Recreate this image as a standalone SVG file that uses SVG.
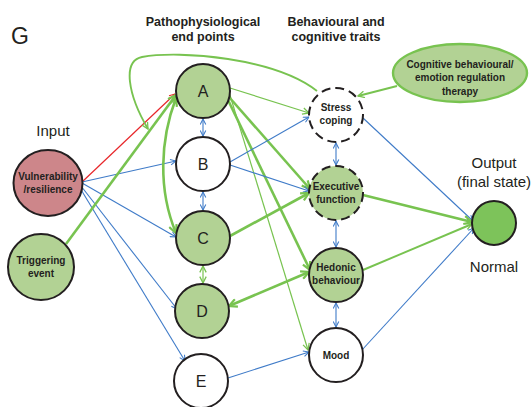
<svg xmlns="http://www.w3.org/2000/svg" width="531" height="407" viewBox="0 0 531 407">
<defs>
<style>
.t{font-family:"Liberation Sans",Arial,sans-serif;fill:#231f20}
.h{font-weight:bold;font-size:12.5px;text-anchor:middle}
.lab{font-size:15px;text-anchor:middle}
.nl{font-size:16px;text-anchor:middle}
.nb{font-weight:bold;font-size:10px;text-anchor:middle}
.node{stroke:#231f20;stroke-width:2}
.g{fill:#b2d294}
.w{fill:#ffffff}
.dash{stroke-dasharray:9 5}
.bl{stroke:#3f7bc8;stroke-width:1.1;fill:none}
.gt{stroke:#78c350;stroke-width:2.6;fill:none}
.gm{stroke:#78c350;stroke-width:1.9;fill:none}
.gs{stroke:#78c350;stroke-width:1.2;fill:none}
.rd{stroke:#e8262a;stroke-width:1.2;fill:none}
</style>
<marker id="ab" viewBox="0 0 10 10" refX="9" refY="5" markerWidth="7" markerHeight="7" markerUnits="userSpaceOnUse" orient="auto-start-reverse"><path d="M1,1 L9,5 L1,9" fill="none" stroke="#3f7bc8" stroke-width="1.5"/></marker>
<marker id="ag" viewBox="0 0 10 10" refX="9" refY="5" markerWidth="10" markerHeight="10" markerUnits="userSpaceOnUse" orient="auto-start-reverse"><path d="M1,1 L9,5 L1,9" fill="none" stroke="#78c350" stroke-width="2.2"/></marker>
<marker id="ags" viewBox="0 0 10 10" refX="9" refY="5" markerWidth="8" markerHeight="8" markerUnits="userSpaceOnUse" orient="auto-start-reverse"><path d="M1,1 L9,5 L1,9" fill="none" stroke="#78c350" stroke-width="1.6"/></marker>
<marker id="ar" viewBox="0 0 10 10" refX="9" refY="5" markerWidth="7" markerHeight="7" markerUnits="userSpaceOnUse" orient="auto"><path d="M1,1 L9,5 L1,9" fill="none" stroke="#e8262a" stroke-width="1.6"/></marker>
</defs>
<rect width="531" height="407" fill="#ffffff"/>

<g id="labels">
<text class="t" x="11" y="44" font-size="23">G</text>
<text class="t h" x="203" y="26">Pathophysiological</text>
<text class="t h" x="203" y="41">end points</text>
<text class="t h" x="336" y="26">Behavioural and</text>
<text class="t h" x="336" y="41">cognitive traits</text>
<text class="t lab" x="53" y="136">Input</text>
<text class="t lab" x="494" y="168">Output</text>
<text class="t lab" x="494" y="187">(final state)</text>
<text class="t lab" x="494" y="272">Normal</text>
</g>

<g id="connectors">
<path class="rd" d="M82,182 L175,94" marker-end="url(#ar)"/>
<path class="bl" d="M82,182 L176,161" marker-end="url(#ab)"/>
<path class="bl" d="M82,183 L176,237" marker-end="url(#ab)"/>
<path class="bl" d="M81,186 L177,309" marker-end="url(#ab)"/>
<path class="bl" d="M80,188 L185,361" marker-end="url(#ab)"/>
<path class="gt" d="M66,244 L176,95" marker-end="url(#ag)"/>
<path class="gm" d="M317,91 C275,58 180,50 142,57 C122,61 128,95 148,129" marker-end="url(#ags)"/>
<path class="gt" d="M176,98 C160,140 158,190 176,233" marker-start="url(#ag)" marker-end="url(#ag)"/>
<path class="gs" d="M230,88 L309,113" marker-end="url(#ags)"/>
<path class="gt" d="M229,97 L310,189" marker-end="url(#ag)"/>
<path class="gt" d="M228,100 L310,270" marker-end="url(#ag)"/>
<path class="gs" d="M229,92 L308,350" marker-end="url(#ags)"/>
<path class="bl" d="M230,162 L309,117" marker-end="url(#ab)"/>
<path class="bl" d="M230,165 L309,191" marker-end="url(#ab)"/>
<path class="gt" d="M230,236 L309,193" marker-end="url(#ag)"/>
<path class="gt" d="M229,306 L309,272" marker-start="url(#ag)" marker-end="url(#ag)"/>
<path class="bl" d="M228,378 L309,352" marker-end="url(#ab)"/>
<path class="bl" d="M363,118 L473,221" marker-end="url(#ab)"/>
<path class="gt" d="M363,195 L472,222" marker-end="url(#ag)"/>
<path class="gm" d="M363,270 L472,224" marker-end="url(#ags)"/>
<path class="bl" d="M362,350 L474,228" marker-end="url(#ab)"/>
<path class="gm" d="M397,86 L358,96" stroke-width="2.2" marker-end="url(#ags)"/>
<path class="bl" d="M203,119 L203,136" marker-start="url(#ab)" marker-end="url(#ab)"/>
<path class="bl" d="M203,192 L203,210" marker-start="url(#ab)" marker-end="url(#ab)"/>
<path class="gs" d="M203,266 L203,283" marker-start="url(#ags)" marker-end="url(#ags)"/>
<path class="bl" d="M336,143 L336,165" stroke-width="1.6" marker-start="url(#ab)" marker-end="url(#ab)"/>
<path class="bl" d="M336,221 L336,247" marker-start="url(#ab)" marker-end="url(#ab)"/>
<path class="bl" d="M336,303 L336,327" marker-start="url(#ab)" marker-end="url(#ab)"/>
</g>

<g id="node-vulnerability"><ellipse class="node" cx="48" cy="183" rx="34.5" ry="33" fill="#cd868a"/><text class="t nb" x="48" y="180" font-size="10.5">Vulnerability</text><text class="t nb" x="48" y="193" font-size="10.5">/resilience</text></g>
<g id="node-triggering"><circle class="node g" cx="41" cy="267" r="33"/><text class="t nb" x="41" y="264" font-size="10.3">Triggering</text><text class="t nb" x="41" y="277" font-size="10.3">event</text></g>
<g id="node-A"><circle class="node g" cx="203" cy="91" r="27"/><text class="t nl" x="203" y="97">A</text></g>
<g id="node-B"><circle class="node w" cx="203" cy="164" r="27"/><text class="t nl" x="203" y="170">B</text></g>
<g id="node-C"><circle class="node g" cx="203" cy="238" r="27"/><text class="t nl" x="203" y="244">C</text></g>
<g id="node-D"><circle class="node g" cx="202" cy="311" r="27"/><text class="t nl" x="202" y="317">D</text></g>
<g id="node-E"><circle class="node w" cx="201" cy="381" r="27"/><text class="t nl" x="201" y="387">E</text></g>
<g id="node-stress"><circle class="node w dash" cx="336" cy="115" r="27"/><text class="t nb" x="336" y="111">Stress</text><text class="t nb" x="336" y="124">coping</text></g>
<g id="node-executive"><circle class="node g dash" cx="336" cy="193" r="27"/><text class="t nb" x="336" y="190">Executive</text><text class="t nb" x="336" y="203">function</text></g>
<g id="node-hedonic"><circle class="node g" cx="336" cy="275" r="27"/><text class="t nb" x="336" y="271">Hedonic</text><text class="t nb" x="336" y="284">behaviour</text></g>
<g id="node-mood"><circle class="node w" cx="336" cy="355" r="27"/><text class="t nb" x="336" y="359">Mood</text></g>
<g id="node-output"><circle class="node" cx="494" cy="223" r="22" fill="#7dc35a"/></g>
<g id="node-therapy"><ellipse cx="460" cy="73" rx="67" ry="29" fill="#b2d294" stroke="#78c350" stroke-width="2.4"/><text class="t nb" x="460" y="68" font-size="11">Cognitive behavioural/</text><text class="t nb" x="460" y="81" font-size="11">emotion regulation</text><text class="t nb" x="460" y="95" font-size="11">therapy</text></g>
</svg>
